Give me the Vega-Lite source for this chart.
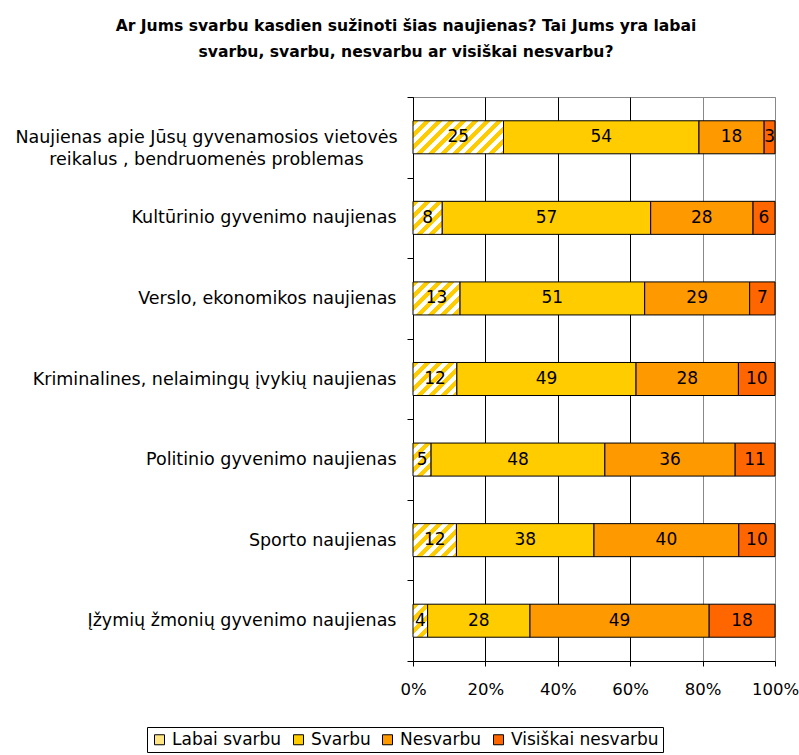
{
  "$schema": "https://vega.github.io/schema/vega-lite/v6.json",
  "autosize": "none",
  "padding": {"left": 413, "top": 97, "right": 24, "bottom": 94},
  "width": 362,
  "height": 564,
  "background": "white",
  "title": {
    "text": ["Ar Jums svarbu kasdien sužinoti šias naujienas? Tai Jums yra labai", "svarbu, svarbu, nesvarbu ar visiškai nesvarbu?"],
    "font": "DejaVu Sans", "fontSize": 15.6, "fontWeight": "bold", "color": "black",
    "anchor": "middle", "dx": -188, "offset": 27, "lineHeight": 26.6
  },
  "data": {
    "values": [
      {"item": "Naujienas apie Jūsų gyvenamosios vietovės reikalus , bendruomenės problemas", "resp": "Labai svarbu", "k": 1, "v": 25},
      {"item": "Naujienas apie Jūsų gyvenamosios vietovės reikalus , bendruomenės problemas", "resp": "Svarbu", "k": 2, "v": 54},
      {"item": "Naujienas apie Jūsų gyvenamosios vietovės reikalus , bendruomenės problemas", "resp": "Nesvarbu", "k": 3, "v": 18},
      {"item": "Naujienas apie Jūsų gyvenamosios vietovės reikalus , bendruomenės problemas", "resp": "Visiškai nesvarbu", "k": 4, "v": 3},
      {"item": "Kultūrinio gyvenimo naujienas", "resp": "Labai svarbu", "k": 1, "v": 8},
      {"item": "Kultūrinio gyvenimo naujienas", "resp": "Svarbu", "k": 2, "v": 57},
      {"item": "Kultūrinio gyvenimo naujienas", "resp": "Nesvarbu", "k": 3, "v": 28},
      {"item": "Kultūrinio gyvenimo naujienas", "resp": "Visiškai nesvarbu", "k": 4, "v": 6},
      {"item": "Verslo, ekonomikos naujienas", "resp": "Labai svarbu", "k": 1, "v": 13},
      {"item": "Verslo, ekonomikos naujienas", "resp": "Svarbu", "k": 2, "v": 51},
      {"item": "Verslo, ekonomikos naujienas", "resp": "Nesvarbu", "k": 3, "v": 29},
      {"item": "Verslo, ekonomikos naujienas", "resp": "Visiškai nesvarbu", "k": 4, "v": 7},
      {"item": "Kriminalines, nelaimingų įvykių naujienas", "resp": "Labai svarbu", "k": 1, "v": 12},
      {"item": "Kriminalines, nelaimingų įvykių naujienas", "resp": "Svarbu", "k": 2, "v": 49},
      {"item": "Kriminalines, nelaimingų įvykių naujienas", "resp": "Nesvarbu", "k": 3, "v": 28},
      {"item": "Kriminalines, nelaimingų įvykių naujienas", "resp": "Visiškai nesvarbu", "k": 4, "v": 10},
      {"item": "Politinio gyvenimo naujienas", "resp": "Labai svarbu", "k": 1, "v": 5},
      {"item": "Politinio gyvenimo naujienas", "resp": "Svarbu", "k": 2, "v": 48},
      {"item": "Politinio gyvenimo naujienas", "resp": "Nesvarbu", "k": 3, "v": 36},
      {"item": "Politinio gyvenimo naujienas", "resp": "Visiškai nesvarbu", "k": 4, "v": 11},
      {"item": "Sporto naujienas", "resp": "Labai svarbu", "k": 1, "v": 12},
      {"item": "Sporto naujienas", "resp": "Svarbu", "k": 2, "v": 38},
      {"item": "Sporto naujienas", "resp": "Nesvarbu", "k": 3, "v": 40},
      {"item": "Sporto naujienas", "resp": "Visiškai nesvarbu", "k": 4, "v": 10},
      {"item": "Įžymių žmonių gyvenimo naujienas", "resp": "Labai svarbu", "k": 1, "v": 4},
      {"item": "Įžymių žmonių gyvenimo naujienas", "resp": "Svarbu", "k": 2, "v": 28},
      {"item": "Įžymių žmonių gyvenimo naujienas", "resp": "Nesvarbu", "k": 3, "v": 49},
      {"item": "Įžymių žmonių gyvenimo naujienas", "resp": "Visiškai nesvarbu", "k": 4, "v": 18}
    ]
  },
  "layer": [
    {
      "mark": {"type": "bar", "stroke": "black", "strokeWidth": 1, "height": {"band": 0.41}},
      "encoding": {
        "y": {
          "field": "item", "type": "nominal", "sort": null,
          "scale": {"paddingInner": 0, "paddingOuter": 0},
          "axis": {
            "title": null, "tickBand": "extent", "tickSize": 6,
            "labelPadding": {"condition": {"test": "datum.value === 'Naujienas apie Jūsų gyvenamosios vietovės reikalus , bendruomenės problemas'", "value": 201}, "value": 11},
            "labelAlign": {"condition": {"test": "datum.value === 'Naujienas apie Jūsų gyvenamosios vietovės reikalus , bendruomenės problemas'", "value": "center"}, "value": "right"},
            "labelLimit": 600, "labelLineHeight": 22,
            "grid": false,
            "labelExpr": "datum.value === 'Naujienas apie Jūsų gyvenamosios vietovės reikalus , bendruomenės problemas' ? ['Naujienas apie Jūsų gyvenamosios vietovės', 'reikalus , bendruomenės problemas'] : datum.label"
          }
        },
        "x": {
          "field": "v", "type": "quantitative", "stack": "normalize",
          "scale": {"domain": [0, 1], "nice": false},
          "axis": {
            "title": null, "values": [0, 0.2, 0.4, 0.6, 0.8, 1], "format": ".0%",
            "tickSize": 5, "labelPadding": 15, "labelFlush": false, "labelOverlap": false,
            "grid": true, "labelFontSize": 16.5,
            "gridColor": {"condition": {"test": "datum.value >= 0.7", "value": "#888888"}, "value": "black"},
            "gridWidth": 1
          }
        },
        "order": {"field": "k", "type": "quantitative"},
        "fill": {
          "field": "resp", "type": "nominal",
          "scale": {
            "domain": ["Labai svarbu", "Svarbu", "Nesvarbu", "Visiškai nesvarbu"],
            "range": ["#FFE680", "#FFCC00", "#FF9900", "#FF6600"]
          },
          "legend": {
            "orient": "none", "legendX": -266, "legendY": 630,
            "direction": "horizontal", "title": null,
            "strokeColor": "black", "padding": 4,
            "symbolType": "square", "symbolSize": 100,
            "symbolStrokeColor": "black", "symbolStrokeWidth": 1,
            "labelFont": "DejaVu Sans", "labelFontSize": 17, "labelColor": "black",
            "labelOffset": 4, "columnPadding": 8
          },
          "condition": [
            {"test": "datum.k === 1 && datum.item === 'Naujienas apie Jūsų gyvenamosios vietovės reikalus , bendruomenės problemas'",
             "value": {"gradient": "linear", "x1": 0, "y1": 0, "x2": 1.2045, "y2": 0.4392, "stops": [
               {"offset": 0, "color": "#ffcc00"}, {"offset": 0.0486, "color": "#ffcc00"}, {"offset": 0.0486, "color": "#ffffff"}, {"offset": 0.0972, "color": "#ffffff"},
               {"offset": 0.0972, "color": "#ffcc00"}, {"offset": 0.1457, "color": "#ffcc00"}, {"offset": 0.1457, "color": "#ffffff"}, {"offset": 0.1943, "color": "#ffffff"},
               {"offset": 0.1943, "color": "#ffcc00"}, {"offset": 0.2429, "color": "#ffcc00"}, {"offset": 0.2429, "color": "#ffffff"}, {"offset": 0.2915, "color": "#ffffff"},
               {"offset": 0.2915, "color": "#ffcc00"}, {"offset": 0.3401, "color": "#ffcc00"}, {"offset": 0.3401, "color": "#ffffff"}, {"offset": 0.3887, "color": "#ffffff"},
               {"offset": 0.3887, "color": "#ffcc00"}, {"offset": 0.4372, "color": "#ffcc00"}, {"offset": 0.4372, "color": "#ffffff"}, {"offset": 0.4858, "color": "#ffffff"},
               {"offset": 0.4858, "color": "#ffcc00"}, {"offset": 0.5344, "color": "#ffcc00"}, {"offset": 0.5344, "color": "#ffffff"}, {"offset": 0.5830, "color": "#ffffff"},
               {"offset": 0.5830, "color": "#ffcc00"}, {"offset": 0.6316, "color": "#ffcc00"}, {"offset": 0.6316, "color": "#ffffff"}, {"offset": 0.6802, "color": "#ffffff"},
               {"offset": 0.6802, "color": "#ffcc00"}, {"offset": 0.7287, "color": "#ffcc00"}, {"offset": 0.7287, "color": "#ffffff"}, {"offset": 0.7773, "color": "#ffffff"},
               {"offset": 0.7773, "color": "#ffcc00"}, {"offset": 0.8259, "color": "#ffcc00"}, {"offset": 0.8259, "color": "#ffffff"}, {"offset": 0.8745, "color": "#ffffff"},
               {"offset": 0.8745, "color": "#ffcc00"}, {"offset": 0.9231, "color": "#ffcc00"}, {"offset": 0.9231, "color": "#ffffff"}, {"offset": 0.9717, "color": "#ffffff"},
               {"offset": 0.9717, "color": "#ffcc00"}, {"offset": 1, "color": "#ffcc00"}]}},
            {"test": "datum.k === 1 && datum.item === 'Kultūrinio gyvenimo naujienas'",
             "value": {"gradient": "linear", "x1": 0, "y1": 0, "x2": 0.9363, "y2": 1.0564, "stops": [
               {"offset": 0, "color": "#ffcc00"}, {"offset": 0.0964, "color": "#ffcc00"}, {"offset": 0.0964, "color": "#ffffff"}, {"offset": 0.1928, "color": "#ffffff"},
               {"offset": 0.1928, "color": "#ffcc00"}, {"offset": 0.2892, "color": "#ffcc00"}, {"offset": 0.2892, "color": "#ffffff"}, {"offset": 0.3855, "color": "#ffffff"},
               {"offset": 0.3855, "color": "#ffcc00"}, {"offset": 0.4819, "color": "#ffcc00"}, {"offset": 0.4819, "color": "#ffffff"}, {"offset": 0.5783, "color": "#ffffff"},
               {"offset": 0.5783, "color": "#ffcc00"}, {"offset": 0.6747, "color": "#ffcc00"}, {"offset": 0.6747, "color": "#ffffff"}, {"offset": 0.7711, "color": "#ffffff"},
               {"offset": 0.7711, "color": "#ffcc00"}, {"offset": 0.8675, "color": "#ffcc00"}, {"offset": 0.8675, "color": "#ffffff"}, {"offset": 0.9639, "color": "#ffffff"},
               {"offset": 0.9639, "color": "#ffcc00"}, {"offset": 1, "color": "#ffcc00"}]}},
            {"test": "datum.k === 1 && datum.item === 'Verslo, ekonomikos naujienas'",
             "value": {"gradient": "linear", "x1": 0, "y1": 0, "x2": 1.1405, "y2": 0.7997, "stops": [
               {"offset": 0, "color": "#ffcc00"}, {"offset": 0.0749, "color": "#ffcc00"}, {"offset": 0.0749, "color": "#ffffff"}, {"offset": 0.1499, "color": "#ffffff"},
               {"offset": 0.1499, "color": "#ffcc00"}, {"offset": 0.2248, "color": "#ffcc00"}, {"offset": 0.2248, "color": "#ffffff"}, {"offset": 0.2998, "color": "#ffffff"},
               {"offset": 0.2998, "color": "#ffcc00"}, {"offset": 0.3747, "color": "#ffcc00"}, {"offset": 0.3747, "color": "#ffffff"}, {"offset": 0.4497, "color": "#ffffff"},
               {"offset": 0.4497, "color": "#ffcc00"}, {"offset": 0.5246, "color": "#ffcc00"}, {"offset": 0.5246, "color": "#ffffff"}, {"offset": 0.5996, "color": "#ffffff"},
               {"offset": 0.5996, "color": "#ffcc00"}, {"offset": 0.6745, "color": "#ffcc00"}, {"offset": 0.6745, "color": "#ffffff"}, {"offset": 0.7494, "color": "#ffffff"},
               {"offset": 0.7494, "color": "#ffcc00"}, {"offset": 0.8244, "color": "#ffcc00"}, {"offset": 0.8244, "color": "#ffffff"}, {"offset": 0.8993, "color": "#ffffff"},
               {"offset": 0.8993, "color": "#ffcc00"}, {"offset": 0.9743, "color": "#ffcc00"}, {"offset": 0.9743, "color": "#ffffff"}, {"offset": 1, "color": "#ffffff"}]}},
            {"test": "datum.k === 1 && datum.item === 'Kriminalines, nelaimingų įvykių naujienas'",
             "value": {"gradient": "linear", "x1": 0, "y1": 0, "x2": 1.1191, "y2": 0.8416, "stops": [
               {"offset": 0, "color": "#ffcc00"}, {"offset": 0.0780, "color": "#ffcc00"}, {"offset": 0.0780, "color": "#ffffff"}, {"offset": 0.1561, "color": "#ffffff"},
               {"offset": 0.1561, "color": "#ffcc00"}, {"offset": 0.2341, "color": "#ffcc00"}, {"offset": 0.2341, "color": "#ffffff"}, {"offset": 0.3122, "color": "#ffffff"},
               {"offset": 0.3122, "color": "#ffcc00"}, {"offset": 0.3902, "color": "#ffcc00"}, {"offset": 0.3902, "color": "#ffffff"}, {"offset": 0.4683, "color": "#ffffff"},
               {"offset": 0.4683, "color": "#ffcc00"}, {"offset": 0.5463, "color": "#ffcc00"}, {"offset": 0.5463, "color": "#ffffff"}, {"offset": 0.6243, "color": "#ffffff"},
               {"offset": 0.6243, "color": "#ffcc00"}, {"offset": 0.7024, "color": "#ffcc00"}, {"offset": 0.7024, "color": "#ffffff"}, {"offset": 0.7804, "color": "#ffffff"},
               {"offset": 0.7804, "color": "#ffcc00"}, {"offset": 0.8585, "color": "#ffcc00"}, {"offset": 0.8585, "color": "#ffffff"}, {"offset": 0.9365, "color": "#ffffff"},
               {"offset": 0.9365, "color": "#ffcc00"}, {"offset": 1, "color": "#ffcc00"}]}},
            {"test": "datum.k === 1 && datum.item === 'Politinio gyvenimo naujienas'",
             "value": {"gradient": "linear", "x1": 0, "y1": 0, "x2": 0.6529, "y2": 1.1904, "stops": [
               {"offset": 0, "color": "#ffcc00"}, {"offset": 0.1174, "color": "#ffcc00"}, {"offset": 0.1174, "color": "#ffffff"}, {"offset": 0.2348, "color": "#ffffff"},
               {"offset": 0.2348, "color": "#ffcc00"}, {"offset": 0.3523, "color": "#ffcc00"}, {"offset": 0.3523, "color": "#ffffff"}, {"offset": 0.4697, "color": "#ffffff"},
               {"offset": 0.4697, "color": "#ffcc00"}, {"offset": 0.5871, "color": "#ffcc00"}, {"offset": 0.5871, "color": "#ffffff"}, {"offset": 0.7045, "color": "#ffffff"},
               {"offset": 0.7045, "color": "#ffcc00"}, {"offset": 0.8219, "color": "#ffcc00"}, {"offset": 0.8219, "color": "#ffffff"}, {"offset": 0.9393, "color": "#ffffff"},
               {"offset": 0.9393, "color": "#ffcc00"}, {"offset": 1, "color": "#ffcc00"}]}},
            {"test": "datum.k === 1 && datum.item === 'Sporto naujienas'",
             "value": {"gradient": "linear", "x1": 0, "y1": 0, "x2": 1.1158, "y2": 0.8476, "stops": [
               {"offset": 0, "color": "#ffcc00"}, {"offset": 0.0785, "color": "#ffcc00"}, {"offset": 0.0785, "color": "#ffffff"}, {"offset": 0.1570, "color": "#ffffff"},
               {"offset": 0.1570, "color": "#ffcc00"}, {"offset": 0.2355, "color": "#ffcc00"}, {"offset": 0.2355, "color": "#ffffff"}, {"offset": 0.3140, "color": "#ffffff"},
               {"offset": 0.3140, "color": "#ffcc00"}, {"offset": 0.3925, "color": "#ffcc00"}, {"offset": 0.3925, "color": "#ffffff"}, {"offset": 0.4710, "color": "#ffffff"},
               {"offset": 0.4710, "color": "#ffcc00"}, {"offset": 0.5495, "color": "#ffcc00"}, {"offset": 0.5495, "color": "#ffffff"}, {"offset": 0.6279, "color": "#ffffff"},
               {"offset": 0.6279, "color": "#ffcc00"}, {"offset": 0.7064, "color": "#ffcc00"}, {"offset": 0.7064, "color": "#ffffff"}, {"offset": 0.7849, "color": "#ffffff"},
               {"offset": 0.7849, "color": "#ffcc00"}, {"offset": 0.8634, "color": "#ffcc00"}, {"offset": 0.8634, "color": "#ffffff"}, {"offset": 0.9419, "color": "#ffffff"},
               {"offset": 0.9419, "color": "#ffcc00"}, {"offset": 1, "color": "#ffcc00"}]}},
            {"test": "datum.k === 1 && datum.item === 'Įžymių žmonių gyvenimo naujienas'",
             "value": {"gradient": "linear", "x1": 0, "y1": 0, "x2": 0.5348, "y2": 1.2063, "stops": [
               {"offset": 0, "color": "#ffcc00"}, {"offset": 0.1260, "color": "#ffcc00"}, {"offset": 0.1260, "color": "#ffffff"}, {"offset": 0.2519, "color": "#ffffff"},
               {"offset": 0.2519, "color": "#ffcc00"}, {"offset": 0.3779, "color": "#ffcc00"}, {"offset": 0.3779, "color": "#ffffff"}, {"offset": 0.5039, "color": "#ffffff"},
               {"offset": 0.5039, "color": "#ffcc00"}, {"offset": 0.6299, "color": "#ffcc00"}, {"offset": 0.6299, "color": "#ffffff"}, {"offset": 0.7558, "color": "#ffffff"},
               {"offset": 0.7558, "color": "#ffcc00"}, {"offset": 0.8818, "color": "#ffcc00"}, {"offset": 0.8818, "color": "#ffffff"}, {"offset": 1, "color": "#ffffff"}]}}
          ]
        }
      }
    },
    {
      "mark": {"type": "text", "font": "DejaVu Sans", "fontSize": 17, "color": "black", "baseline": "middle", "align": "center"},
      "encoding": {
        "y": {"field": "item", "type": "nominal", "sort": null},
        "x": {"field": "v", "type": "quantitative", "stack": "normalize", "bandPosition": 0.5},
        "order": {"field": "k", "type": "quantitative"},
        "detail": {"field": "resp", "type": "nominal"},
        "text": {"field": "v", "type": "quantitative"}
      }
    }
  ],
  "config": {
    "view": {"stroke": "#888888", "strokeWidth": 1},
    "axis": {
      "labelFont": "DejaVu Sans", "labelFontSize": 17.5, "labelColor": "black",
      "domainColor": "black", "tickColor": "black", "domainWidth": 1, "tickWidth": 1
    }
  }
}
